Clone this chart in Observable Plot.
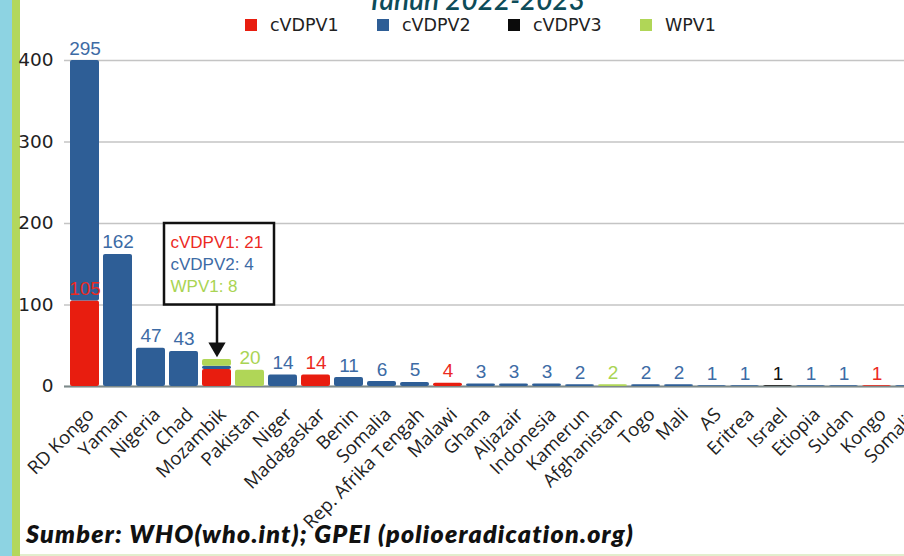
<!DOCTYPE html>
<html><head><meta charset="utf-8">
<script src="https://cdn.jsdelivr.net/npm/d3@7"></script>
<script src="https://cdn.jsdelivr.net/npm/@observablehq/plot@0.6"></script>
<style>
html,body{margin:0;padding:0;background:#fff;}
body{width:904px;height:556px;overflow:hidden;position:relative;}
#stripA{position:absolute;left:0;top:0;width:12px;height:556px;background:#8dd3e2;}
#stripB{position:absolute;left:12px;top:0;width:8px;height:556px;background:#b3d75c;}
#bottomline{position:absolute;left:20px;bottom:0;width:884px;height:2px;background:#e2eecd;}
#title{position:absolute;top:-15px;left:0;width:952px;text-align:center;font:italic 600 28px Lato;line-height:28px;color:#0d4c59;}
.item{position:absolute;top:16px;height:18px;display:flex;align-items:center;font:17.5px "DejaVu Sans";color:#222;white-space:nowrap;}
.sw{width:12px;height:12px;margin-right:13px;}
#chart{position:absolute;left:0;top:40px;width:931px;}
#chart svg{max-width:none !important;}
#caption{position:absolute;left:26px;top:518px;font:italic 800 25px Lato;letter-spacing:1.2px;line-height:30px;color:#111;white-space:nowrap;}
</style></head><body>
<div id="stripA"></div><div id="stripB"></div><div id="bottomline"></div>
<div id="title">Tahun 2022-2023</div>
<div id="legend"></div>
<div id="chart"></div>
<div id="caption">Sumber: WHO(who.int); GPEI (polioeradication.org)</div>
<script>
const countries = ["RD Kongo","Yaman","Nigeria","Chad","Mozambik","Pakistan","Niger","Madagaskar","Benin","Somalia","Rep. Afrika Tengah","Malawi","Ghana","Aljazair","Indonesia","Kamerun","Afghanistan","Togo","Mali","AS","Eritrea","Israel","Etiopia","Sudan","Kongo","Somalia"];
const cVDPV1 = [105,0,0,0,21,0,0,14,0,0,0,4,0,0,0,0,0,0,0,0,0,0,0,0,1,0];
const cVDPV2 = [295,162,47,43,4,0,14,0,11,6,5,0,3,3,3,2,0,2,2,1,1,0,1,1,0,1];
const cVDPV3 = [0,0,0,0,0,0,0,0,0,0,0,0,0,0,0,0,0,0,0,0,0,1,0,0,0,0];
const WPV1   = [0,0,0,0,8,20,0,0,0,0,0,0,0,0,0,0,2,0,0,0,0,0,0,0,0,0];
const seriesNames = ["cVDPV1","cVDPV2","cVDPV3","WPV1"];
const seriesValues = [cVDPV1, cVDPV2, cVDPV3, WPV1];
const seriesColors = ["#e81d0f","#2e5e96","#0b0b0b","#b0d657"];
const labelColors = ["#ec2a1f","#3d6ba5","#111111","#a9d453"];
const yTicks = [0,100,200,300,400];
const legendX = [245,377,508,640];
// annotation (data-space anchors)
const annotIndex = 4; // Mozambik
const annotBox = [100,200];
const annotTextY = [177,150,123];
const arrowY = [100,46];
const arrowHeadY = 48;

// legend
const leg = document.getElementById("legend");
seriesNames.forEach((s,i)=>{
  const it = document.createElement("div");
  it.className="item"; it.style.left = legendX[i]+"px";
  it.innerHTML = `<span class="sw" style="background:${seriesColors[i]}"></span><span>${s}</span>`;
  leg.appendChild(it);
});

const idx = countries.map((c,i)=>i);
// long data
const rows = [];
seriesNames.forEach((s,si)=>{
  idx.forEach(ci=>{ const v = seriesValues[si][ci]; if (v>0) rows.push({i:ci, series:s, value:v}); });
});
// label tops (cumulative in series order)
const labelRows = [];
idx.forEach(ci=>{
  let cum = 0;
  seriesNames.forEach((s,si)=>{ const v = seriesValues[si][ci]; if (v>0){ cum += v; if (ci!==annotIndex) labelRows.push({i:ci, series:s, top:cum, label:String(v)}); } });
});
const annotRows = [];
seriesNames.forEach((s,si)=>{ const v = seriesValues[si][annotIndex]; if (v>0) annotRows.push({i:annotIndex, text:`${s}: ${v}`, color:labelColors[si]}); });
annotRows.forEach((r,k)=> r.y = annotTextY[k]);

const labelMarks = seriesNames.map((s,si)=> Plot.text(labelRows.filter(d=>d.series===s), {
  x:"i", y:"top", text:"label", fill: labelColors[si], lineAnchor:"bottom", dy:-6,
  fontSize:19, fontFamily:"Liberation Sans"}));
const annotTextMarks = annotRows.map(r => Plot.text([r], {x:"i", y:"y", text:"text", fill:r.color,
  textAnchor:"start", dx:-46.5, fontSize:17, fontFamily:"Liberation Sans"}));

const chart = Plot.plot({
  width: 931, height: 480,
  marginLeft: 64, marginRight: 0, marginTop: 20, marginBottom: 134,
  x: {domain: idx, paddingInner: 0.12, paddingOuter: 0.12, label: null},
  y: {domain: [0,400], label: null},
  color: {domain: seriesNames, range: seriesColors},
  style: {background: "transparent", overflow: "visible", maxWidth: "none"},
  marks: [
    Plot.gridY(yTicks, {stroke:"#c4c4c4", strokeOpacity:1, strokeWidth:1.5}),
    Plot.ruleY([0], {stroke:"#7d8a8a", strokeWidth:2}),
    Plot.barY(rows, {x:"i", y:"value", fill:"series", rx:2}),
    ...labelMarks,
    Plot.axisY(yTicks, {tickSize:0, tickPadding:11, fontSize:18.5, fontFamily:"DejaVu Sans", fill:"#222", label:null}),
    Plot.axisX({tickSize:0, tickPadding:25, dx:6, tickRotate:-45, fontSize:18.5, fontFamily:"Open Sans", fill:"#222", label:null, tickFormat: i => countries[i]}),
    Plot.barY([{i:annotIndex, y1:annotBox[0], y2:annotBox[1]}], {x:"i", y1:"y1", y2:"y2", fill:"white", stroke:"#111", strokeWidth:2.5, insetLeft:-38, insetRight:-43}),
    ...annotTextMarks,
    Plot.link([{i:annotIndex, a:arrowY[0], b:arrowY[1]}], {x1:"i", x2:"i", y1:"a", y2:"b", stroke:"#111", strokeWidth:2.5}),
    Plot.dot([{i:annotIndex, y:arrowHeadY}], {x:"i", y:"y", symbol:"triangle", r:6.4, rotate:180, fill:"#111", stroke:null})
  ]
});
document.getElementById("chart").appendChild(chart);
</script>
</body></html>
